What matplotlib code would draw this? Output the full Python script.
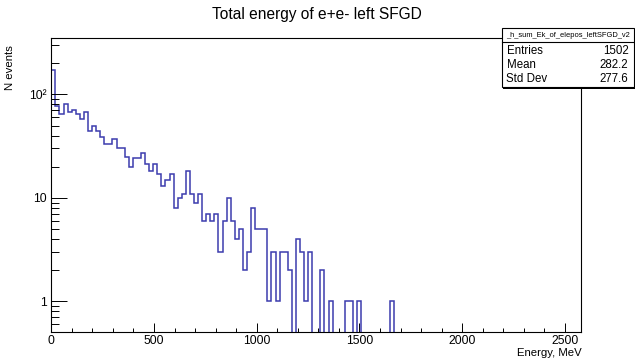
"""Total energy of e+e- (left SFGD) - ROOT style log histogram
"""
import numpy as np
import matplotlib
matplotlib.use("Agg")
import matplotlib.pyplot as plt
from matplotlib.patches import Rectangle
from matplotlib.lines import Line2D
from matplotlib.ticker import FixedLocator, MultipleLocator, NullFormatter

plt.rcParams["font.family"] = ["Liberation Sans", "DejaVu Sans"]

title = "Total energy of e+e- left SFGD"
hist_name = "_h_sum_Ek_of_elepos_leftSFGD_v2"
x_label = "Energy, MeV"
y_label = "N events"

e_min, e_max, n_bins = 0.0, 2580.0, 130
# counts, bin by bin from 0 MeV (rest are empty)
counts_read = [174, 77, 64, 81, 68, 70, 65, 58, 68, 44,
               50, 44, 39, 33, 33, 37, 30, 30, 25, 20,
               24, 24, 27, 21, 18, 21, 17, 13, 15, 17,
               8, 10, 11, 18, 11, 9, 11, 6, 7, 6,
               7, 3, 6, 10, 6, 4, 5, 2, 3, 8,
               5, 5, 5, 1, 3, 1, 3, 3, 2, 0,
               4, 3, 1, 3, 0, 0, 2, 0, 1, 0,
               0, 0, 1, 1, 0, 1, 0, 0, 0, 0,
               0, 0, 0, 1]

y_major = [1, 10, 100]
y_major_labels = ["1", "10", "10\u00b2"]
x_major = [0, 500, 1000, 1500, 2000, 2500]

stat_names = ["Entries", "Mean", "Std Dev"]
stat_values = ["1502", "282.2", "277.6"]

W, H = 635, 358
line_col = "#3c3cae"


def fx(px):
    return px / W


def fy(py):
    return 1 - py / H


counts = np.zeros(n_bins)
counts[:len(counts_read)] = counts_read
edges = np.linspace(e_min, e_max, n_bins + 1)
# empty bins drop below the frame, like ROOT does on a log axis
draw_vals = np.where(counts > 0, counts, 1e-3)

fig = plt.figure(figsize=(W / 100, H / 100), dpi=100)
ax = fig.add_axes([fx(51.3), fy(332.3), fx(581.3) - fx(51.3), fy(38.4) - fy(332.3)])

ax.stairs(draw_vals, edges, baseline=1e-3, color=line_col, lw=1.1)
ax.set_yscale("log")
ax.set_xlim(e_min, e_max)
ax.set_ylim(0.5, 2 * counts.max())

ax.yaxis.set_major_locator(FixedLocator(y_major))
ax.set_yticklabels(y_major_labels)
ax.yaxis.set_minor_locator(FixedLocator(
    [m * 10.0 ** d for d in (-1, 0, 1, 2) for m in range(2, 10)]))
ax.yaxis.set_minor_formatter(NullFormatter())
ax.xaxis.set_major_locator(FixedLocator(x_major))
ax.xaxis.set_minor_locator(MultipleLocator(100))

ax.tick_params(axis="y", which="major", direction="in", length=11.4, width=0.7,
               labelsize=8.7, pad=3, right=False)
ax.tick_params(axis="y", which="minor", direction="in", length=5.7, width=0.7,
               right=False)
ax.tick_params(axis="x", which="major", direction="in", length=6.4, width=0.7,
               labelsize=8.7, pad=2, top=False)
ax.tick_params(axis="x", which="minor", direction="in", length=3.2, width=0.7,
               top=False)
for sp in ax.spines.values():
    sp.set_linewidth(0.8)

fig.text(fx(317), fy(14), title, ha="center", va="center", fontsize=11.2)
fig.text(fx(582), fy(353), x_label, ha="right", va="center", fontsize=8.2)
fig.text(fx(10), fy(45), y_label, ha="center", va="top", rotation=90, fontsize=8.2)

# stats box
bx0, bx1, by0, by1 = 502, 633.5, 28.3, 87.3
fig.add_artist(Rectangle((fx(bx0 + 1.2), fy(by1 + 1.2)), fx(bx1 - bx0), fy(by0) - fy(by1),
                         transform=fig.transFigure, fc="black", ec="none", zorder=4))
fig.add_artist(Rectangle((fx(bx0), fy(by1)), fx(bx1 - bx0), fy(by0) - fy(by1),
                         transform=fig.transFigure, fc="white", ec="black", lw=0.8, zorder=5))
fig.add_artist(Line2D([fx(bx0), fx(bx1)], [fy(42.3), fy(42.3)],
                      transform=fig.transFigure, color="black", lw=0.8, zorder=6))
fig.text(fx((bx0 + bx1) / 2), fy(35.5), hist_name, ha="center", va="center",
         fontsize=5.4, zorder=7)
for k, (name, val) in enumerate(zip(stat_names, stat_values)):
    yy = fy(50.5 + 14.5 * k)
    fig.text(fx(506.5), yy, name, ha="left", va="center", fontsize=8.3, zorder=7)
    fig.text(fx(628.5), yy, val, ha="right", va="center", fontsize=8.3, zorder=7)

fig.savefig("out.png", dpi=100)
